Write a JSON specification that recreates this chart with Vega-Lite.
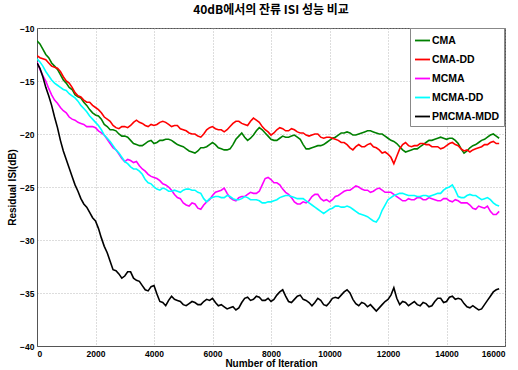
{
  "$schema": "https://vega.github.io/schema/vega-lite/v6.json",
  "width": 468,
  "height": 318,
  "autosize": {"type": "none"},
  "padding": {"left": 37, "top": 28, "right": 13, "bottom": 24},
  "background": "white",
  "title": {"text": "40dB에서의 잔류 ISI 성능 비교", "font": "Noto Sans CJK KR", "fontSize": 12, "fontWeight": "bold", "color": "#000", "offset": 7, "anchor": "middle"},
  "config": {
    "view": {"stroke": "#555", "strokeWidth": 1},
    "axis": {
      "grid": true, "gridDash": [1, 2], "gridColor": "#aaa", "gridWidth": 0.8,
      "domainColor": "#555", "ticks": false,
      "labelFont": "Liberation Sans", "labelFontWeight": "bold", "labelFontSize": 8.5, "labelColor": "#000",
      "titleFont": "Liberation Sans", "titleFontWeight": "bold", "titleFontSize": 10, "titleColor": "#000"
    }
  },
  "data": {"values": [
    {"x":0,"CMA":-11.2,"CMA-DD":-12.6,"MCMA":-13.2,"MCMA-DD":-12.9,"PMCMA-MDD":-13.3},
    {"x":200,"CMA":-12.0,"CMA-DD":-12.9,"MCMA":-14.5,"MCMA-DD":-13.6,"PMCMA-MDD":-14.6},
    {"x":400,"CMA":-12.8,"CMA-DD":-13.3,"MCMA":-15.7,"MCMA-DD":-14.5,"PMCMA-MDD":-16.4},
    {"x":600,"CMA":-13.6,"CMA-DD":-13.7,"MCMA":-16.8,"MCMA-DD":-15.2,"PMCMA-MDD":-18.4},
    {"x":800,"CMA":-14.4,"CMA-DD":-14.1,"MCMA":-17.5,"MCMA-DD":-15.6,"PMCMA-MDD":-20.6},
    {"x":1000,"CMA":-15.2,"CMA-DD":-15.0,"MCMA":-18.0,"MCMA-DD":-15.9,"PMCMA-MDD":-22.4},
    {"x":1200,"CMA":-15.8,"CMA-DD":-15.6,"MCMA":-18.6,"MCMA-DD":-16.4,"PMCMA-MDD":-24.0},
    {"x":1400,"CMA":-16.5,"CMA-DD":-16.4,"MCMA":-18.9,"MCMA-DD":-16.9,"PMCMA-MDD":-25.4},
    {"x":1600,"CMA":-17.0,"CMA-DD":-16.8,"MCMA":-19.1,"MCMA-DD":-17.6,"PMCMA-MDD":-26.6},
    {"x":1800,"CMA":-17.7,"CMA-DD":-17.0,"MCMA":-19.3,"MCMA-DD":-18.3,"PMCMA-MDD":-27.4},
    {"x":2000,"CMA":-18.2,"CMA-DD":-17.5,"MCMA":-19.4,"MCMA-DD":-18.9,"PMCMA-MDD":-28.2},
    {"x":2200,"CMA":-18.6,"CMA-DD":-18.0,"MCMA":-19.9,"MCMA-DD":-19.6,"PMCMA-MDD":-29.8},
    {"x":2400,"CMA":-19.3,"CMA-DD":-18.6,"MCMA":-20.5,"MCMA-DD":-20.4,"PMCMA-MDD":-31.2},
    {"x":2600,"CMA":-19.6,"CMA-DD":-19.2,"MCMA":-21.3,"MCMA-DD":-21.1,"PMCMA-MDD":-32.8},
    {"x":2800,"CMA":-20.0,"CMA-DD":-19.5,"MCMA":-21.9,"MCMA-DD":-21.8,"PMCMA-MDD":-33.2},
    {"x":3000,"CMA":-20.2,"CMA-DD":-19.3,"MCMA":-22.6,"MCMA-DD":-22.6,"PMCMA-MDD":-33.4},
    {"x":3200,"CMA":-20.6,"CMA-DD":-19.2,"MCMA":-22.5,"MCMA-DD":-23.1,"PMCMA-MDD":-33.0},
    {"x":3400,"CMA":-21.0,"CMA-DD":-18.7,"MCMA":-22.6,"MCMA-DD":-23.3,"PMCMA-MDD":-33.8},
    {"x":3600,"CMA":-21.1,"CMA-DD":-19.0,"MCMA":-23.3,"MCMA-DD":-23.8,"PMCMA-MDD":-34.3},
    {"x":3800,"CMA":-20.7,"CMA-DD":-19.3,"MCMA":-23.8,"MCMA-DD":-24.6,"PMCMA-MDD":-34.8},
    {"x":4000,"CMA":-20.9,"CMA-DD":-19.2,"MCMA":-24.1,"MCMA-DD":-25.0,"PMCMA-MDD":-34.3},
    {"x":4200,"CMA":-20.6,"CMA-DD":-18.9,"MCMA":-24.4,"MCMA-DD":-25.3,"PMCMA-MDD":-35.8},
    {"x":4400,"CMA":-20.5,"CMA-DD":-18.9,"MCMA":-24.8,"MCMA-DD":-25.2,"PMCMA-MDD":-36.2},
    {"x":4600,"CMA":-20.6,"CMA-DD":-19.3,"MCMA":-25.3,"MCMA-DD":-25.4,"PMCMA-MDD":-35.3},
    {"x":4800,"CMA":-21.0,"CMA-DD":-19.2,"MCMA":-26.0,"MCMA-DD":-25.4,"PMCMA-MDD":-35.7},
    {"x":5000,"CMA":-21.2,"CMA-DD":-19.6,"MCMA":-26.5,"MCMA-DD":-25.3,"PMCMA-MDD":-36.1},
    {"x":5200,"CMA":-21.6,"CMA-DD":-19.9,"MCMA":-26.8,"MCMA-DD":-25.2,"PMCMA-MDD":-36.0},
    {"x":5400,"CMA":-21.8,"CMA-DD":-20.0,"MCMA":-26.6,"MCMA-DD":-25.3,"PMCMA-MDD":-35.9},
    {"x":5600,"CMA":-21.3,"CMA-DD":-20.3,"MCMA":-27.1,"MCMA-DD":-25.6,"PMCMA-MDD":-36.1},
    {"x":5800,"CMA":-21.2,"CMA-DD":-19.6,"MCMA":-26.4,"MCMA-DD":-26.4,"PMCMA-MDD":-35.6},
    {"x":6000,"CMA":-20.8,"CMA-DD":-19.3,"MCMA":-25.8,"MCMA-DD":-26.0,"PMCMA-MDD":-35.5},
    {"x":6200,"CMA":-21.3,"CMA-DD":-19.6,"MCMA":-25.4,"MCMA-DD":-25.9,"PMCMA-MDD":-36.2},
    {"x":6400,"CMA":-21.5,"CMA-DD":-19.8,"MCMA":-25.1,"MCMA-DD":-26.0,"PMCMA-MDD":-36.3},
    {"x":6600,"CMA":-21.4,"CMA-DD":-19.3,"MCMA":-26.0,"MCMA-DD":-25.9,"PMCMA-MDD":-36.4},
    {"x":6800,"CMA":-20.5,"CMA-DD":-18.8,"MCMA":-26.3,"MCMA-DD":-26.2,"PMCMA-MDD":-36.6},
    {"x":7000,"CMA":-19.9,"CMA-DD":-19.0,"MCMA":-25.9,"MCMA-DD":-26.1,"PMCMA-MDD":-35.9},
    {"x":7200,"CMA":-20.6,"CMA-DD":-19.2,"MCMA":-25.7,"MCMA-DD":-26.0,"PMCMA-MDD":-35.4},
    {"x":7400,"CMA":-20.1,"CMA-DD":-18.5,"MCMA":-25.6,"MCMA-DD":-26.2,"PMCMA-MDD":-35.6},
    {"x":7600,"CMA":-19.4,"CMA-DD":-18.9,"MCMA":-25.4,"MCMA-DD":-26.3,"PMCMA-MDD":-35.4},
    {"x":7800,"CMA":-19.9,"CMA-DD":-19.6,"MCMA":-24.2,"MCMA-DD":-26.5,"PMCMA-MDD":-35.7},
    {"x":8000,"CMA":-20.5,"CMA-DD":-20.1,"MCMA":-24.3,"MCMA-DD":-26.4,"PMCMA-MDD":-35.8},
    {"x":8200,"CMA":-20.6,"CMA-DD":-19.6,"MCMA":-24.6,"MCMA-DD":-26.2,"PMCMA-MDD":-35.2},
    {"x":8400,"CMA":-20.2,"CMA-DD":-19.5,"MCMA":-25.2,"MCMA-DD":-25.9,"PMCMA-MDD":-34.7},
    {"x":8600,"CMA":-20.3,"CMA-DD":-19.7,"MCMA":-25.7,"MCMA-DD":-25.8,"PMCMA-MDD":-35.8},
    {"x":8800,"CMA":-20.1,"CMA-DD":-19.6,"MCMA":-26.4,"MCMA-DD":-26.0,"PMCMA-MDD":-35.6},
    {"x":9000,"CMA":-20.5,"CMA-DD":-19.9,"MCMA":-26.6,"MCMA-DD":-26.1,"PMCMA-MDD":-35.2},
    {"x":9200,"CMA":-21.4,"CMA-DD":-20.1,"MCMA":-26.5,"MCMA-DD":-26.3,"PMCMA-MDD":-35.7},
    {"x":9400,"CMA":-21.3,"CMA-DD":-20.1,"MCMA":-25.9,"MCMA-DD":-26.7,"PMCMA-MDD":-36.2},
    {"x":9600,"CMA":-21.1,"CMA-DD":-20.0,"MCMA":-25.7,"MCMA-DD":-27.1,"PMCMA-MDD":-35.5},
    {"x":9800,"CMA":-21.0,"CMA-DD":-20.4,"MCMA":-26.3,"MCMA-DD":-27.5,"PMCMA-MDD":-36.1},
    {"x":10000,"CMA":-20.6,"CMA-DD":-20.3,"MCMA":-26.4,"MCMA-DD":-27.1,"PMCMA-MDD":-35.9},
    {"x":10200,"CMA":-20.3,"CMA-DD":-20.5,"MCMA":-25.9,"MCMA-DD":-26.8,"PMCMA-MDD":-35.4},
    {"x":10400,"CMA":-19.9,"CMA-DD":-20.8,"MCMA":-25.6,"MCMA-DD":-26.9,"PMCMA-MDD":-35.2},
    {"x":10600,"CMA":-19.8,"CMA-DD":-21.0,"MCMA":-25.3,"MCMA-DD":-26.8,"PMCMA-MDD":-34.7},
    {"x":10800,"CMA":-20.1,"CMA-DD":-21.5,"MCMA":-25.1,"MCMA-DD":-27.1,"PMCMA-MDD":-35.6},
    {"x":11000,"CMA":-20.0,"CMA-DD":-21.0,"MCMA":-25.0,"MCMA-DD":-27.5,"PMCMA-MDD":-36.2},
    {"x":11200,"CMA":-19.8,"CMA-DD":-21.2,"MCMA":-25.3,"MCMA-DD":-27.7,"PMCMA-MDD":-36.0},
    {"x":11400,"CMA":-19.7,"CMA-DD":-20.9,"MCMA":-25.5,"MCMA-DD":-28.0,"PMCMA-MDD":-36.1},
    {"x":11600,"CMA":-19.9,"CMA-DD":-21.3,"MCMA":-25.2,"MCMA-DD":-28.3,"PMCMA-MDD":-36.7},
    {"x":11800,"CMA":-20.0,"CMA-DD":-21.8,"MCMA":-25.3,"MCMA-DD":-27.2,"PMCMA-MDD":-36.1},
    {"x":12000,"CMA":-20.4,"CMA-DD":-21.9,"MCMA":-25.5,"MCMA-DD":-26.2,"PMCMA-MDD":-35.6},
    {"x":12200,"CMA":-20.7,"CMA-DD":-22.8,"MCMA":-25.7,"MCMA-DD":-25.8,"PMCMA-MDD":-34.5},
    {"x":12400,"CMA":-21.2,"CMA-DD":-21.4,"MCMA":-26.1,"MCMA-DD":-25.6,"PMCMA-MDD":-36.1},
    {"x":12600,"CMA":-21.7,"CMA-DD":-20.8,"MCMA":-26.3,"MCMA-DD":-25.7,"PMCMA-MDD":-35.9},
    {"x":12800,"CMA":-21.5,"CMA-DD":-21.2,"MCMA":-26.2,"MCMA-DD":-25.8,"PMCMA-MDD":-36.0},
    {"x":13000,"CMA":-21.4,"CMA-DD":-21.1,"MCMA":-26.0,"MCMA-DD":-25.9,"PMCMA-MDD":-36.1},
    {"x":13200,"CMA":-21.0,"CMA-DD":-20.9,"MCMA":-26.2,"MCMA-DD":-25.8,"PMCMA-MDD":-35.9},
    {"x":13400,"CMA":-20.6,"CMA-DD":-21.0,"MCMA":-26.0,"MCMA-DD":-25.9,"PMCMA-MDD":-36.3},
    {"x":13600,"CMA":-20.5,"CMA-DD":-21.2,"MCMA":-26.2,"MCMA-DD":-25.7,"PMCMA-MDD":-35.8},
    {"x":13800,"CMA":-20.3,"CMA-DD":-21.4,"MCMA":-26.3,"MCMA-DD":-25.6,"PMCMA-MDD":-35.5},
    {"x":14000,"CMA":-20.5,"CMA-DD":-21.1,"MCMA":-26.1,"MCMA-DD":-25.1,"PMCMA-MDD":-35.8},
    {"x":14200,"CMA":-20.4,"CMA-DD":-20.8,"MCMA":-26.4,"MCMA-DD":-24.8,"PMCMA-MDD":-35.3},
    {"x":14400,"CMA":-20.9,"CMA-DD":-21.1,"MCMA":-26.3,"MCMA-DD":-25.9,"PMCMA-MDD":-35.5},
    {"x":14600,"CMA":-21.8,"CMA-DD":-21.6,"MCMA":-26.5,"MCMA-DD":-26.0,"PMCMA-MDD":-36.0},
    {"x":14800,"CMA":-21.3,"CMA-DD":-21.7,"MCMA":-26.7,"MCMA-DD":-25.7,"PMCMA-MDD":-36.4},
    {"x":15000,"CMA":-21.0,"CMA-DD":-21.4,"MCMA":-27.1,"MCMA-DD":-25.8,"PMCMA-MDD":-36.4},
    {"x":15200,"CMA":-20.6,"CMA-DD":-21.2,"MCMA":-26.9,"MCMA-DD":-26.2,"PMCMA-MDD":-36.5},
    {"x":15400,"CMA":-20.3,"CMA-DD":-21.0,"MCMA":-26.8,"MCMA-DD":-26.0,"PMCMA-MDD":-35.7},
    {"x":15600,"CMA":-20.0,"CMA-DD":-20.7,"MCMA":-27.6,"MCMA-DD":-26.5,"PMCMA-MDD":-34.9},
    {"x":15800,"CMA":-20.4,"CMA-DD":-20.9,"MCMA":-27.3,"MCMA-DD":-26.8,"PMCMA-MDD":-34.6},
    {"x":100,"CMA":-11.5,"CMA-DD":-12.8,"MCMA":-13.9,"MCMA-DD":-13.2,"PMCMA-MDD":-13.8},
    {"x":300,"CMA":-12.5,"CMA-DD":-13.0,"MCMA":-15.0,"MCMA-DD":-14.1,"PMCMA-MDD":-15.6},
    {"x":500,"CMA":-13.3,"CMA-DD":-13.6,"MCMA":-16.3,"MCMA-DD":-14.9,"PMCMA-MDD":-17.3},
    {"x":700,"CMA":-13.9,"CMA-DD":-13.8,"MCMA":-17.1,"MCMA-DD":-15.4,"PMCMA-MDD":-19.4},
    {"x":900,"CMA":-14.9,"CMA-DD":-14.6,"MCMA":-17.8,"MCMA-DD":-15.8,"PMCMA-MDD":-21.6},
    {"x":1100,"CMA":-15.6,"CMA-DD":-15.2,"MCMA":-18.4,"MCMA-DD":-16.2,"PMCMA-MDD":-23.2},
    {"x":1300,"CMA":-16.3,"CMA-DD":-16.1,"MCMA":-18.7,"MCMA-DD":-16.6,"PMCMA-MDD":-24.8},
    {"x":1500,"CMA":-16.6,"CMA-DD":-16.5,"MCMA":-19.0,"MCMA-DD":-17.3,"PMCMA-MDD":-26.1},
    {"x":1700,"CMA":-17.3,"CMA-DD":-17.0,"MCMA":-19.3,"MCMA-DD":-17.9,"PMCMA-MDD":-26.9},
    {"x":1900,"CMA":-18.0,"CMA-DD":-17.3,"MCMA":-19.3,"MCMA-DD":-18.6,"PMCMA-MDD":-27.9},
    {"x":2100,"CMA":-18.3,"CMA-DD":-17.7,"MCMA":-19.7,"MCMA-DD":-19.2,"PMCMA-MDD":-28.9},
    {"x":2300,"CMA":-19.1,"CMA-DD":-18.4,"MCMA":-20.1,"MCMA-DD":-20.1,"PMCMA-MDD":-30.6},
    {"x":2500,"CMA":-19.6,"CMA-DD":-18.8,"MCMA":-20.9,"MCMA-DD":-20.7,"PMCMA-MDD":-32.0},
    {"x":2700,"CMA":-19.7,"CMA-DD":-19.4,"MCMA":-21.5,"MCMA-DD":-21.5,"PMCMA-MDD":-32.9},
    {"x":2900,"CMA":-20.2,"CMA-DD":-19.3,"MCMA":-22.3,"MCMA-DD":-22.2,"PMCMA-MDD":-33.6},
    {"x":3100,"CMA":-20.3,"CMA-DD":-19.4,"MCMA":-22.4,"MCMA-DD":-22.8,"PMCMA-MDD":-33.0},
    {"x":3300,"CMA":-20.9,"CMA-DD":-18.9,"MCMA":-22.7,"MCMA-DD":-23.3,"PMCMA-MDD":-33.6},
    {"x":3500,"CMA":-21.1,"CMA-DD":-18.9,"MCMA":-23.0,"MCMA-DD":-23.5,"PMCMA-MDD":-33.9},
    {"x":3700,"CMA":-20.9,"CMA-DD":-19.2,"MCMA":-23.5,"MCMA-DD":-24.3,"PMCMA-MDD":-34.7},
    {"x":3900,"CMA":-20.6,"CMA-DD":-19.1,"MCMA":-24.0,"MCMA-DD":-24.7,"PMCMA-MDD":-34.4},
    {"x":4100,"CMA":-20.8,"CMA-DD":-19.1,"MCMA":-24.2,"MCMA-DD":-25.2,"PMCMA-MDD":-35.1},
    {"x":4300,"CMA":-20.6,"CMA-DD":-18.8,"MCMA":-24.7,"MCMA-DD":-25.1,"PMCMA-MDD":-35.9},
    {"x":4500,"CMA":-20.5,"CMA-DD":-19.1,"MCMA":-25.0,"MCMA-DD":-25.4,"PMCMA-MDD":-35.7},
    {"x":4700,"CMA":-20.8,"CMA-DD":-19.2,"MCMA":-25.7,"MCMA-DD":-25.3,"PMCMA-MDD":-35.6},
    {"x":4900,"CMA":-21.1,"CMA-DD":-19.5,"MCMA":-26.1,"MCMA-DD":-25.5,"PMCMA-MDD":-35.8},
    {"x":5100,"CMA":-21.4,"CMA-DD":-19.7,"MCMA":-26.7,"MCMA-DD":-25.2,"PMCMA-MDD":-36.2},
    {"x":5300,"CMA":-21.7,"CMA-DD":-20.0,"MCMA":-26.5,"MCMA-DD":-25.3,"PMCMA-MDD":-35.8},
    {"x":5500,"CMA":-21.6,"CMA-DD":-20.2,"MCMA":-27.0,"MCMA-DD":-25.5,"PMCMA-MDD":-36.1},
    {"x":5700,"CMA":-21.3,"CMA-DD":-20.0,"MCMA":-26.7,"MCMA-DD":-26.1,"PMCMA-MDD":-35.8},
    {"x":5900,"CMA":-21.0,"CMA-DD":-19.4,"MCMA":-26.2,"MCMA-DD":-26.1,"PMCMA-MDD":-35.7},
    {"x":6100,"CMA":-21.0,"CMA-DD":-19.5,"MCMA":-25.5,"MCMA-DD":-25.9,"PMCMA-MDD":-35.9},
    {"x":6300,"CMA":-21.4,"CMA-DD":-19.6,"MCMA":-25.3,"MCMA-DD":-26.0,"PMCMA-MDD":-36.1},
    {"x":6500,"CMA":-21.5,"CMA-DD":-19.6,"MCMA":-25.6,"MCMA-DD":-25.8,"PMCMA-MDD":-36.5},
    {"x":6700,"CMA":-21.0,"CMA-DD":-19.0,"MCMA":-26.2,"MCMA-DD":-26.1,"PMCMA-MDD":-36.3},
    {"x":6900,"CMA":-20.2,"CMA-DD":-18.8,"MCMA":-26.0,"MCMA-DD":-26.2,"PMCMA-MDD":-36.4},
    {"x":7100,"CMA":-20.3,"CMA-DD":-19.1,"MCMA":-25.9,"MCMA-DD":-25.9,"PMCMA-MDD":-35.5},
    {"x":7300,"CMA":-20.4,"CMA-DD":-18.8,"MCMA":-25.5,"MCMA-DD":-26.2,"PMCMA-MDD":-35.7},
    {"x":7500,"CMA":-19.7,"CMA-DD":-18.7,"MCMA":-25.6,"MCMA-DD":-26.2,"PMCMA-MDD":-35.3},
    {"x":7700,"CMA":-19.6,"CMA-DD":-19.3,"MCMA":-24.8,"MCMA-DD":-26.5,"PMCMA-MDD":-35.7},
    {"x":7900,"CMA":-20.2,"CMA-DD":-19.8,"MCMA":-24.1,"MCMA-DD":-26.4,"PMCMA-MDD":-35.5},
    {"x":8100,"CMA":-20.6,"CMA-DD":-19.9,"MCMA":-24.6,"MCMA-DD":-26.3,"PMCMA-MDD":-35.6},
    {"x":8300,"CMA":-20.4,"CMA-DD":-19.4,"MCMA":-24.8,"MCMA-DD":-26.0,"PMCMA-MDD":-34.9},
    {"x":8500,"CMA":-20.3,"CMA-DD":-19.7,"MCMA":-25.5,"MCMA-DD":-25.8,"PMCMA-MDD":-35.3},
    {"x":8700,"CMA":-20.2,"CMA-DD":-19.5,"MCMA":-26.0,"MCMA-DD":-25.9,"PMCMA-MDD":-35.9},
    {"x":8900,"CMA":-20.3,"CMA-DD":-19.8,"MCMA":-26.6,"MCMA-DD":-26.1,"PMCMA-MDD":-35.3},
    {"x":9100,"CMA":-21.0,"CMA-DD":-19.9,"MCMA":-26.4,"MCMA-DD":-26.1,"PMCMA-MDD":-35.6},
    {"x":9300,"CMA":-21.4,"CMA-DD":-20.2,"MCMA":-26.3,"MCMA-DD":-26.5,"PMCMA-MDD":-35.9},
    {"x":9500,"CMA":-21.2,"CMA-DD":-20.0,"MCMA":-25.7,"MCMA-DD":-26.9,"PMCMA-MDD":-35.9},
    {"x":9700,"CMA":-21.1,"CMA-DD":-20.3,"MCMA":-26.1,"MCMA-DD":-27.3,"PMCMA-MDD":-35.7},
    {"x":9900,"CMA":-20.8,"CMA-DD":-20.3,"MCMA":-26.2,"MCMA-DD":-27.3,"PMCMA-MDD":-36.2},
    {"x":10100,"CMA":-20.4,"CMA-DD":-20.4,"MCMA":-26.2,"MCMA-DD":-27.0,"PMCMA-MDD":-35.5},
    {"x":10300,"CMA":-20.1,"CMA-DD":-20.6,"MCMA":-25.8,"MCMA-DD":-26.8,"PMCMA-MDD":-35.5},
    {"x":10500,"CMA":-19.9,"CMA-DD":-20.8,"MCMA":-25.4,"MCMA-DD":-26.9,"PMCMA-MDD":-34.9},
    {"x":10700,"CMA":-19.9,"CMA-DD":-21.3,"MCMA":-25.3,"MCMA-DD":-26.9,"PMCMA-MDD":-35.0},
    {"x":10900,"CMA":-20.1,"CMA-DD":-21.2,"MCMA":-24.9,"MCMA-DD":-27.3,"PMCMA-MDD":-36.0},
    {"x":11100,"CMA":-19.9,"CMA-DD":-21.2,"MCMA":-25.2,"MCMA-DD":-27.6,"PMCMA-MDD":-35.9},
    {"x":11300,"CMA":-19.7,"CMA-DD":-21.0,"MCMA":-25.3,"MCMA-DD":-27.8,"PMCMA-MDD":-36.3},
    {"x":11500,"CMA":-19.8,"CMA-DD":-21.2,"MCMA":-25.4,"MCMA-DD":-28.2,"PMCMA-MDD":-36.4},
    {"x":11700,"CMA":-20.0,"CMA-DD":-21.5,"MCMA":-25.1,"MCMA-DD":-27.9,"PMCMA-MDD":-36.4},
    {"x":11900,"CMA":-20.2,"CMA-DD":-21.7,"MCMA":-25.5,"MCMA-DD":-26.7,"PMCMA-MDD":-35.8},
    {"x":12100,"CMA":-20.6,"CMA-DD":-22.2,"MCMA":-25.5,"MCMA-DD":-26.0,"PMCMA-MDD":-35.2},
    {"x":12300,"CMA":-20.9,"CMA-DD":-22.1,"MCMA":-25.9,"MCMA-DD":-25.7,"PMCMA-MDD":-35.5},
    {"x":12500,"CMA":-21.5,"CMA-DD":-21.0,"MCMA":-26.3,"MCMA-DD":-25.6,"PMCMA-MDD":-35.8},
    {"x":12700,"CMA":-21.6,"CMA-DD":-21.1,"MCMA":-26.1,"MCMA-DD":-25.8,"PMCMA-MDD":-36.2},
    {"x":12900,"CMA":-21.4,"CMA-DD":-21.1,"MCMA":-26.2,"MCMA-DD":-25.8,"PMCMA-MDD":-35.8},
    {"x":13100,"CMA":-21.2,"CMA-DD":-20.9,"MCMA":-26.0,"MCMA-DD":-25.9,"PMCMA-MDD":-36.2},
    {"x":13300,"CMA":-20.8,"CMA-DD":-21.0,"MCMA":-26.2,"MCMA-DD":-25.8,"PMCMA-MDD":-36.0},
    {"x":13500,"CMA":-20.6,"CMA-DD":-21.2,"MCMA":-26.1,"MCMA-DD":-25.8,"PMCMA-MDD":-36.2},
    {"x":13700,"CMA":-20.4,"CMA-DD":-21.2,"MCMA":-26.3,"MCMA-DD":-25.6,"PMCMA-MDD":-35.5},
    {"x":13900,"CMA":-20.4,"CMA-DD":-21.3,"MCMA":-26.1,"MCMA-DD":-25.3,"PMCMA-MDD":-35.9},
    {"x":14100,"CMA":-20.4,"CMA-DD":-20.9,"MCMA":-26.3,"MCMA-DD":-25.0,"PMCMA-MDD":-35.4},
    {"x":14300,"CMA":-20.6,"CMA-DD":-21.0,"MCMA":-26.2,"MCMA-DD":-25.3,"PMCMA-MDD":-35.6},
    {"x":14500,"CMA":-21.4,"CMA-DD":-21.4,"MCMA":-26.5,"MCMA-DD":-26.0,"PMCMA-MDD":-35.6},
    {"x":14700,"CMA":-21.6,"CMA-DD":-21.5,"MCMA":-26.5,"MCMA-DD":-25.8,"PMCMA-MDD":-36.3},
    {"x":14900,"CMA":-21.1,"CMA-DD":-21.5,"MCMA":-27.0,"MCMA-DD":-25.8,"PMCMA-MDD":-36.2},
    {"x":15100,"CMA":-20.8,"CMA-DD":-21.3,"MCMA":-26.8,"MCMA-DD":-26.0,"PMCMA-MDD":-36.6},
    {"x":15300,"CMA":-20.5,"CMA-DD":-21.0,"MCMA":-27.0,"MCMA-DD":-26.1,"PMCMA-MDD":-36.1},
    {"x":15500,"CMA":-20.1,"CMA-DD":-20.8,"MCMA":-27.3,"MCMA-DD":-26.2,"PMCMA-MDD":-35.3},
    {"x":15700,"CMA":-20.2,"CMA-DD":-20.9,"MCMA":-27.6,"MCMA-DD":-26.7,"PMCMA-MDD":-34.7}
  ]},
  "transform": [{"fold": ["CMA", "CMA-DD", "MCMA", "MCMA-DD", "PMCMA-MDD"], "as": ["s", "y"]}],
  "mark": {"type": "line", "strokeWidth": 1.6, "clip": true},
  "encoding": {
    "x": {"field": "x", "type": "quantitative",
      "scale": {"domain": [0, 16000], "nice": false},
      "axis": {"values": [0, 2000, 4000, 6000, 8000, 10000, 12000, 14000, 16000], "format": "d", "title": "Number of Iteration", "labelPadding": 3, "titlePadding": 1}},
    "y": {"field": "y", "type": "quantitative",
      "scale": {"domain": [-40, -10], "nice": false},
      "axis": {"values": [-40, -35, -30, -25, -20, -15, -10], "title": "Residual ISI(dB)", "labelPadding": 3, "titlePadding": 2}},
    "color": {"field": "s", "type": "nominal",
      "scale": {"domain": ["CMA", "CMA-DD", "MCMA", "MCMA-DD", "PMCMA-MDD"], "range": ["#008000", "#ff0000", "#ff00ff", "#00ffff", "#000000"]},
      "legend": {"title": null, "orient": "none", "legendX": 373, "legendY": 0, "fillColor": "white", "strokeColor": "#888", "padding": 4,
        "symbolType": "stroke", "symbolSize": 225, "symbolStrokeWidth": 1.8, "labelFont": "Liberation Sans", "labelFontWeight": "bold", "labelFontSize": 10.5, "labelColor": "#000", "labelOffset": 1, "rowPadding": 5}}
  }
}
